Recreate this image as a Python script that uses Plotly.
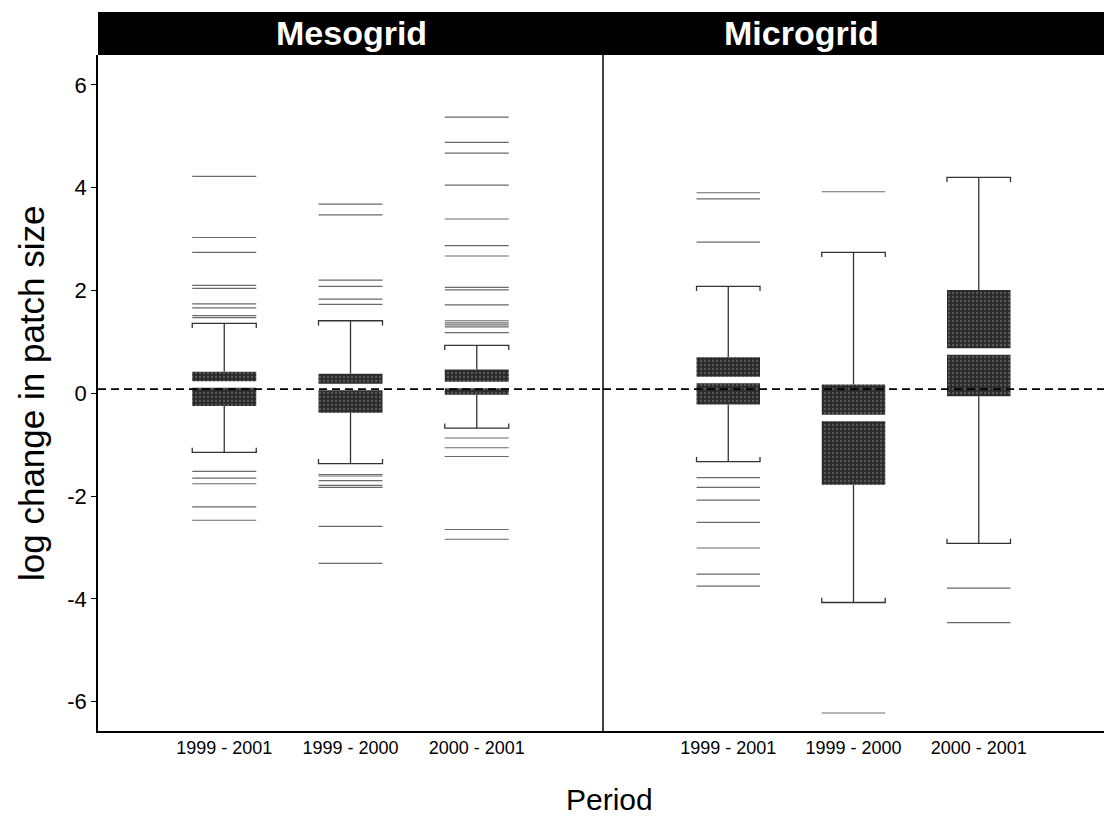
import plotly.graph_objects as go
from plotly.subplots import make_subplots

PERIODS = ["1999 - 2001", "1999 - 2000", "2000 - 2001"]
PANELS = ["Mesogrid", "Microgrid"]

MESO_Q1 = [-0.25, -0.38, -0.03]
MESO_MED = [0.17, 0.12, 0.16]
MESO_Q3 = [0.42, 0.38, 0.46]
MESO_LOW = [-1.15, -1.37, -0.68]
MESO_HIGH = [1.36, 1.41, 0.93]
MESO_OUT_1 = [4.22, 3.03, 2.74, 2.10, 2.04, 1.74, 1.66, 1.51, 1.47,
              -1.52, -1.65, -1.76, -2.21, -2.47]
MESO_OUT_2 = [3.68, 3.47, 2.20, 2.08, 1.83, 1.73,
              -1.58, -1.61, -1.70, -1.79, -1.83, -2.59, -3.31]
MESO_OUT_3 = [5.37, 4.88, 4.67, 4.05, 3.39, 2.87, 2.67, 2.06, 2.01, 1.72,
              1.41, 1.37, 1.33, 1.29, 1.18,
              -0.87, -1.06, -1.23, -2.65, -2.84]

MICRO_Q1 = [-0.22, -1.78, -0.06]
MICRO_MED = [0.26, -0.48, 0.81]
MICRO_Q3 = [0.70, 0.17, 2.01]
MICRO_LOW = [-1.33, -4.07, -2.92]
MICRO_HIGH = [2.08, 2.74, 4.20]
MICRO_OUT_1 = [3.90, 3.78, 2.94, -1.64, -1.83, -2.08, -2.51, -3.01, -3.52, -3.75]
MICRO_OUT_2 = [3.92, -6.22]
MICRO_OUT_3 = [-3.79, -4.46]

REF_LEVEL = 0.08

Y_TICKS = [-6, -4, -2, 0, 2, 4, 6]

W, H = 1104, 819
ML, MR, MT, MB = 98, 0, 55, 88
SPLIT = 0.502
BOX_W = 0.507
HALF = BOX_W / 2
CAP_TICK = 0.09
FONT = "Liberation Sans, Arial, Helvetica"

fig = make_subplots(rows=1, cols=2, shared_yaxes=True, horizontal_spacing=0)

panels = [
    (MESO_Q1, MESO_MED, MESO_Q3, MESO_LOW, MESO_HIGH, [MESO_OUT_1, MESO_OUT_2, MESO_OUT_3]),
    (MICRO_Q1, MICRO_MED, MICRO_Q3, MICRO_LOW, MICRO_HIGH, [MICRO_OUT_1, MICRO_OUT_2, MICRO_OUT_3]),
]

for col, (q1, med, q3, low, high, outs) in enumerate(panels, start=1):
    pos = list(range(1, len(PERIODS) + 1))
    # outliers as horizontal lines
    ox, oy = [], []
    for p, arr in zip(pos, outs):
        for v in arr:
            ox += [p - HALF, p + HALF, None]
            oy += [v, v, None]
    fig.add_trace(go.Scatter(x=ox, y=oy, mode="lines",
                             line=dict(color="#6a6a6a", width=1.2),
                             hoverinfo="skip", showlegend=False), row=1, col=col)
    # whiskers and bracket caps
    wx, wy = [], []
    for p, a, b, lo, hi in zip(pos, q1, q3, low, high):
        wx += [p, p, None, p, p, None]
        wy += [b, hi, None, a, lo, None]
        wx += [p - HALF, p - HALF, p + HALF, p + HALF, None]
        wy += [hi - CAP_TICK, hi, hi, hi - CAP_TICK, None]
        wx += [p - HALF, p - HALF, p + HALF, p + HALF, None]
        wy += [lo + CAP_TICK, lo, lo, lo + CAP_TICK, None]
    fig.add_trace(go.Scatter(x=wx, y=wy, mode="lines",
                             line=dict(color="#333333", width=1.3),
                             hoverinfo="skip", showlegend=False), row=1, col=col)
    # boxes
    fig.add_trace(go.Bar(x=pos, y=[b - a for a, b in zip(q1, q3)], base=q1,
                         width=BOX_W,
                         marker=dict(color="#2b2b2b", line=dict(width=0),
                                     pattern=dict(shape=".", fgcolor="#8a8a8a",
                                                  size=4, solidity=0.25,
                                                  fillmode="overlay")),
                         hoverinfo="skip", showlegend=False), row=1, col=col)
    # median white gap
    mx, my = [], []
    for p, m in zip(pos, med):
        mx += [p - HALF - 0.01, p + HALF + 0.01, None]
        my += [m, m, None]
    fig.add_trace(go.Scatter(x=mx, y=my, mode="lines",
                             line=dict(color="white", width=6.5),
                             hoverinfo="skip", showlegend=False), row=1, col=col)
    # reference dashed line
    fig.add_trace(go.Scatter(x=[0, 4], y=[REF_LEVEL, REF_LEVEL], mode="lines",
                             line=dict(color="black", width=1.8, dash="8px,5px"),
                             hoverinfo="skip", showlegend=False), row=1, col=col)

axis_common = dict(range=[0, 4], tickvals=[1, 2, 3], ticktext=PERIODS,
                   showgrid=False, zeroline=False, showline=True,
                   linecolor="black", linewidth=1.5, ticks="",
                   tickfont=dict(family=FONT, size=18, color="black"))
fig.update_layout(
    xaxis=dict(domain=[0, SPLIT], **axis_common),
    xaxis2=dict(domain=[SPLIT, 1], **axis_common),
    yaxis=dict(range=[-6.57, 6.58], tickvals=Y_TICKS, ticktext=[str(t) for t in Y_TICKS],
               showgrid=False, zeroline=False, showline=True, linecolor="black",
               linewidth=1.5, ticks="outside", ticklen=5, tickcolor="black",
               tickfont=dict(family=FONT, size=22, color="black")),
    yaxis2=dict(showgrid=False, zeroline=False, showticklabels=False),
    width=W, height=H,
    margin=dict(l=ML, r=MR, t=MT, b=MB),
    plot_bgcolor="white", paper_bgcolor="white",
    barmode="overlay",
    showlegend=False,
)

# header strip
fig.add_shape(type="rect", xref="paper", yref="paper", x0=0, x1=1,
              y0=1, y1=1 + 43 / 676, fillcolor="black", line=dict(width=0), layer="above")
# divider
fig.add_shape(type="line", xref="paper", yref="paper", x0=SPLIT, x1=SPLIT,
              y0=0, y1=1, line=dict(color="black", width=1.5))

hdr_y = 1 + 21.5 / 676
for name, xc in zip(PANELS, [0.2515, 0.6998]):
    fig.add_annotation(text="<b>%s</b>" % name, xref="paper", yref="paper",
                       x=xc, y=hdr_y, xanchor="center", yanchor="middle",
                       showarrow=False,
                       font=dict(family=FONT, size=34, color="white"))

fig.add_annotation(text="log change in patch size", xref="paper", yref="paper",
                   x=(31 - ML) / 1006, y=(731 - 393) / 676, textangle=-90,
                   xanchor="center", yanchor="middle", showarrow=False,
                   font=dict(family=FONT, size=35, color="black"))
fig.add_annotation(text="Period", xref="paper", yref="paper",
                   x=(609.5 - ML) / 1006, y=(731 - 800) / 676,
                   xanchor="center", yanchor="middle", showarrow=False,
                   font=dict(family=FONT, size=30, color="black"))

fig.write_html("out.html")
